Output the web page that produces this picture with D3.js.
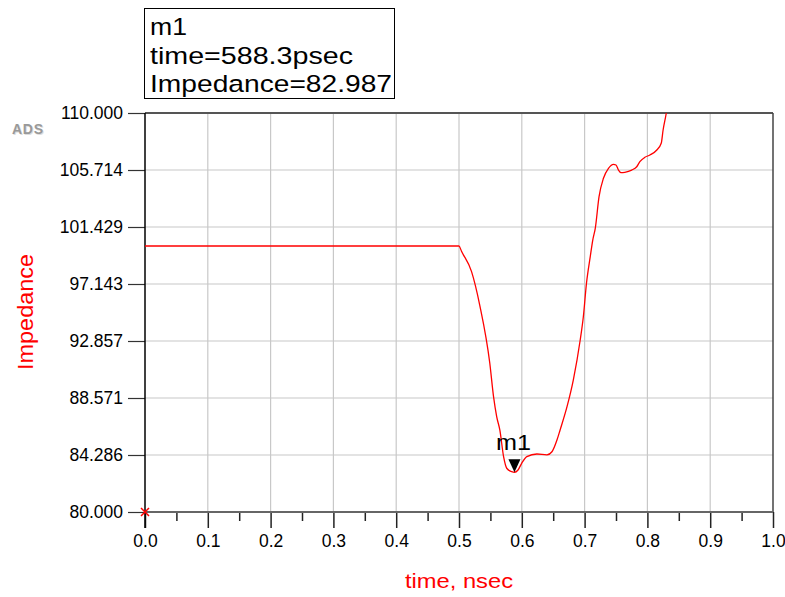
<!DOCTYPE html>
<html>
<head>
<meta charset="utf-8">
<script src="https://cdn.jsdelivr.net/npm/d3@7"></script>
<style>
  html, body { margin: 0; padding: 0; background: #fff; }
  svg { display: block; font-family: 'Liberation Sans', Arial, sans-serif; }
</style>
</head>
<body>
<div id="chart"></div>
<script>
(function () {
  'use strict';

  // Time (nsec) and impedance (Ohm)
  const timeNs = [0, 0.5, 0.504, 0.52, 0.533, 0.549, 0.555, 0.560, 0.565, 0.571, 0.576, 0.584, 0.5883,
    0.594, 0.600, 0.608, 0.624, 0.640, 0.648, 0.656, 0.661, 0.672, 0.682, 0.693, 0.698, 0.703,
    0.709, 0.713, 0.717, 0.723, 0.730, 0.738, 0.746, 0.750, 0.754, 0.758, 0.764, 0.775, 0.783,
    0.788, 0.796, 0.804, 0.815, 0.822, 0.825, 0.830, 0.836];
  const impedance = [100, 100, 99.6, 98.07, 95.56, 91.2, 88.67, 87.17, 86.17, 84.16, 83.29, 83.03, 82.987,
    83.16, 83.68, 84.16, 84.36, 84.29, 84.53, 85.41, 86.17, 87.92, 89.92, 92.93, 94.68, 97.20,
    99.20, 100.45, 101.33, 103.71, 105.09, 105.84, 106.14, 106.09, 105.71, 105.51, 105.54, 105.71,
    105.96, 106.34, 106.67, 106.84, 107.22, 107.72, 108.72, 109.98, 112];

  const xTicks = [0, 0.1, 0.2, 0.3, 0.4, 0.5, 0.6, 0.7, 0.8, 0.9, 1.0];
  const xMinorTicks = [0.05, 0.15, 0.25, 0.35, 0.45, 0.55, 0.65, 0.75, 0.85, 0.95];
  const yTicks = [80.000, 84.286, 88.571, 92.857, 97.143, 101.429, 105.714, 110.000];

  const marker = { name: 'm1', time: 0.5883, value: 82.987 };
  const markerLines = ['m1', 'time=588.3psec', 'Impedance=82.987'];

  const W = 785, H = 597;
  const RED = '#ff0000';

  const svg = d3.select('#chart').append('svg').attr('width', W).attr('height', H);

  const x = d3.scaleLinear().domain([0, 1]).range([145, 773]);
  const y = d3.scaleLinear().domain([80, 110]).range([512, 113]);

  // grid
  svg.append('g').selectAll('line').data(xTicks.slice(1, -1)).enter().append('line')
    .attr('x1', d => x(d)).attr('x2', d => x(d)).attr('y1', y(110)).attr('y2', y(80))
    .attr('stroke', '#c8c8c8').attr('stroke-width', 1.2);
  svg.append('g').selectAll('line').data(yTicks.slice(1, -1)).enter().append('line')
    .attr('x1', x(0)).attr('x2', x(1)).attr('y1', d => y(d)).attr('y2', d => y(d))
    .attr('stroke', '#c8c8c8').attr('stroke-width', 1.2);

  // frame top + right
  svg.append('line').attr('x1', x(0)).attr('x2', x(1)).attr('y1', y(110)).attr('y2', y(110))
    .attr('stroke', '#555').attr('stroke-width', 2);
  svg.append('line').attr('x1', x(1)).attr('x2', x(1)).attr('y1', y(110)).attr('y2', y(80))
    .attr('stroke', '#444').attr('stroke-width', 1.5);

  // x axis (major + minor ticks)
  const xAxis = svg.append('g').attr('transform', `translate(0,${y(80)})`)
    .call(d3.axisBottom(x).tickValues(xTicks).tickSize(16).tickPadding(7).tickFormat(d3.format('.1f')));
  xAxis.select('.domain').remove();
  xAxis.selectAll('.tick line').attr('stroke', '#222').attr('stroke-width', 1.5);
  xAxis.selectAll('.tick text').attr('font-size', 17.5).attr('fill', '#000')
    .attr('font-family', "'Liberation Sans', Arial, sans-serif");
  const xMinor = svg.append('g').attr('transform', `translate(0,${y(80)})`)
    .call(d3.axisBottom(x).tickValues(xMinorTicks).tickSize(9).tickFormat(''));
  xMinor.select('.domain').remove();
  xMinor.selectAll('.tick line').attr('stroke', '#222').attr('stroke-width', 1.5);
  svg.append('line').attr('x1', x(0)).attr('x2', x(1)).attr('y1', y(80)).attr('y2', y(80))
    .attr('stroke', '#666').attr('stroke-width', 2);

  // y axis
  const yAxis = svg.append('g').attr('transform', `translate(${x(0)},0)`)
    .call(d3.axisLeft(y).tickValues(yTicks).tickSize(17).tickPadding(5).tickFormat(d3.format('.3f')));
  yAxis.select('.domain').remove();
  yAxis.selectAll('.tick line').attr('stroke', '#333').attr('stroke-width', 1.2);
  yAxis.selectAll('.tick text').attr('font-size', 17.5).attr('fill', '#000')
    .attr('font-family', "'Liberation Sans', Arial, sans-serif");
  svg.append('line').attr('x1', x(0)).attr('x2', x(0)).attr('y1', y(110)).attr('y2', y(80) + 16)
    .attr('stroke', '#000').attr('stroke-width', 1.5);

  // curve, clipped to plot area
  svg.append('clipPath').attr('id', 'plotclip').append('rect')
    .attr('x', x(0)).attr('y', y(110)).attr('width', x(1) - x(0)).attr('height', y(80) - y(110));
  const line = d3.line().x(d => x(d[0])).y(d => y(d[1])).curve(d3.curveMonotoneX);
  svg.append('path').datum(timeNs.map((t, i) => [t, impedance[i]]))
    .attr('clip-path', 'url(#plotclip)')
    .attr('d', line).attr('fill', 'none').attr('stroke', RED).attr('stroke-width', 1.3);

  // red x at origin
  const ox = x(0), oy = y(80);
  svg.append('path').attr('d', `M${ox - 4},${oy - 4}L${ox + 4},${oy + 4}M${ox - 4},${oy + 4}L${ox + 4},${oy - 4}`)
    .attr('stroke', RED).attr('stroke-width', 1.5);

  // marker triangle + label
  const mx = x(marker.time), my = y(marker.value);
  svg.append('path').attr('d', `M${mx - 6},${my - 13}L${mx + 6},${my - 13}L${mx},${my}Z`).attr('fill', '#000');
  svg.append('text').attr('x', mx - 1).attr('y', my - 22).attr('text-anchor', 'middle')
    .attr('font-size', 22).attr('textLength', 35).attr('lengthAdjust', 'spacingAndGlyphs')
    .text(marker.name);

  // marker readout box
  svg.append('rect').attr('x', 144.5).attr('y', 8.5).attr('width', 250).attr('height', 90)
    .attr('fill', '#fff').attr('stroke', '#000').attr('stroke-width', 1);
  const boxLens = [37, 203, 242];
  svg.append('g').selectAll('text').data(markerLines).enter().append('text')
    .attr('x', 150).attr('y', (d, i) => 35 + i * 28.5)
    .attr('font-size', 24.5)
    .attr('textLength', (d, i) => boxLens[i]).attr('lengthAdjust', 'spacingAndGlyphs')
    .text(d => d);

  // axis titles
  svg.append('text').attr('x', 459).attr('y', 588).attr('text-anchor', 'middle')
    .attr('fill', RED).attr('font-size', 21).attr('textLength', 108).attr('lengthAdjust', 'spacingAndGlyphs')
    .text('time, nsec');
  svg.append('text').attr('transform', 'translate(33,312) rotate(-90)').attr('text-anchor', 'middle')
    .attr('fill', RED).attr('font-size', 22).attr('textLength', 116).attr('lengthAdjust', 'spacingAndGlyphs')
    .text('Impedance');

  // ADS logo
  svg.append('text').attr('x', 13).attr('y', 135).attr('font-size', 14).attr('font-weight', 'bold')
    .attr('fill', '#ddd').attr('textLength', 31).text('ADS');
  svg.append('text').attr('x', 12).attr('y', 134).attr('font-size', 14).attr('font-weight', 'bold')
    .attr('fill', '#999').attr('textLength', 31).text('ADS');
})();
</script>
</body>
</html>
